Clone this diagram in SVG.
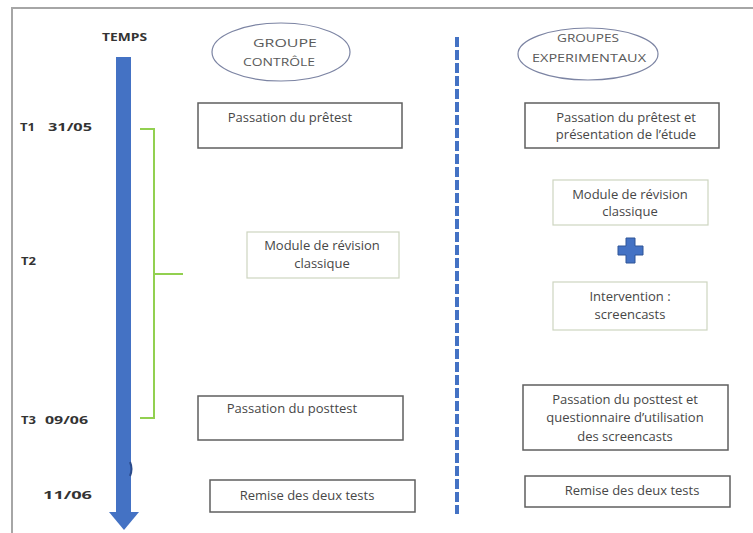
<svg xmlns="http://www.w3.org/2000/svg" width="753" height="533" viewBox="0 0 753 533">
<style>
.frame{fill:none;stroke:#a6a6a6;stroke-width:2}
.box{fill:#fff;stroke:#5f5f5f;stroke-width:1.5}
.lbox{fill:#fff;stroke:#cdd5c0;stroke-width:1.2}
.ell{fill:#fff;stroke:#7c84a3;stroke-width:1.2}
.t{font-family:"Open Sans","Liberation Sans",sans-serif;font-size:13px;fill:#474747;text-anchor:middle}
.et{font-family:"Open Sans","Liberation Sans",sans-serif;font-size:10px;fill:#5a5a5a;text-anchor:middle}
.lab{font-family:"Open Sans","Liberation Sans",sans-serif;font-size:11px;font-weight:bold;fill:#333}
.blue{fill:#4472c4}
</style>
<rect width="753" height="533" fill="#fff"/>
<path class="frame" d="M12,533 V8 H753"/>

<g id="connectors">
  <g id="time-arrow">
    <rect class="blue" x="116" y="57" width="15" height="456"/>
    <polygon class="blue" points="109,512 139,512 124,530"/>
    <path d="M130,462 Q133,469 130,476" fill="none" stroke="#2a4a8a" stroke-width="2"/>
  </g>
  <path id="separator" d="M457,37 V514" fill="none" stroke="#4472c4" stroke-width="4" stroke-dasharray="10,3"/>
  <path id="bracket" d="M140,129 H154 V418 H140 M154,274 H183" fill="none" stroke="#92d050" stroke-width="2"/>
</g>

<g id="temps"><text class="lab" x="102" y="41" textLength="45" lengthAdjust="spacingAndGlyphs">TEMPS</text></g>
<g id="t1"><text class="lab" x="20" y="131" textLength="15" lengthAdjust="spacingAndGlyphs">T1</text><text class="lab" x="48" y="131" textLength="44" lengthAdjust="spacingAndGlyphs">31/05</text></g>
<g id="t2"><text class="lab" x="21" y="265" textLength="15" lengthAdjust="spacingAndGlyphs">T2</text></g>
<g id="t3"><text class="lab" x="21" y="424" textLength="15" lengthAdjust="spacingAndGlyphs">T3</text><text class="lab" x="45" y="424" textLength="43" lengthAdjust="spacingAndGlyphs">09/06</text></g>
<g id="d1106"><text class="lab" x="43" y="499" textLength="49" lengthAdjust="spacingAndGlyphs">11/06</text></g>

<g id="groupe-controle">
  <ellipse class="ell" cx="281" cy="52" rx="69" ry="29"/>
  <text class="et" x="285" y="47" textLength="64" lengthAdjust="spacingAndGlyphs">GROUPE</text>
  <text class="et" x="279" y="66" textLength="72" lengthAdjust="spacingAndGlyphs">CONTRÔLE</text>
</g>
<g id="groupes-exp">
  <ellipse class="ell" cx="588" cy="54" rx="70" ry="26"/>
  <text class="et" x="588" y="42" textLength="62" lengthAdjust="spacingAndGlyphs">GROUPES</text>
  <text class="et" x="589" y="62" textLength="114" lengthAdjust="spacingAndGlyphs">EXPERIMENTAUX</text>
</g>

<g id="c-pretest">
  <rect class="box" x="198" y="103" width="204" height="45"/>
  <text class="t" x="290" y="122">Passation du prêtest</text>
</g>
<g id="c-module">
  <rect class="lbox" x="247" y="232" width="152" height="46"/>
  <text class="t" x="322" y="250">Module de révision</text>
  <text class="t" x="322" y="268">classique</text>
</g>
<g id="c-posttest">
  <rect class="box" x="198" y="396" width="205" height="44"/>
  <text class="t" x="292" y="413">Passation du posttest</text>
</g>
<g id="c-remise">
  <rect class="box" x="210" y="480" width="205" height="32"/>
  <text class="t" x="307" y="500">Remise des deux tests</text>
</g>

<g id="e-pretest">
  <rect class="box" x="525" y="103" width="194" height="45"/>
  <text class="t" x="626" y="122">Passation du prêtest et</text>
  <text class="t" x="626" y="139">présentation de l’étude</text>
</g>
<g id="e-module">
  <rect class="lbox" x="553" y="180" width="155" height="45"/>
  <text class="t" x="630" y="199">Module de révision</text>
  <text class="t" x="630" y="216">classique</text>
</g>
<g id="plus">
  <path d="M626,238 H635 V246 H643 V255 H635 V263 H626 V255 H618 V246 H626 Z" fill="#4472c4" stroke="#2f5597" stroke-width="1"/>
</g>
<g id="e-intervention">
  <rect class="lbox" x="553" y="282" width="154" height="48"/>
  <text class="t" x="630" y="301">Intervention :</text>
  <text class="t" x="630" y="319">screencasts</text>
</g>
<g id="e-posttest">
  <rect class="box" x="523" y="385" width="205" height="65"/>
  <text class="t" x="625" y="404">Passation du posttest et</text>
  <text class="t" x="625" y="422">questionnaire d’utilisation</text>
  <text class="t" x="625" y="441">des screencasts</text>
</g>
<g id="e-remise">
  <rect class="box" x="525" y="476" width="205" height="31"/>
  <text class="t" x="632" y="495">Remise des deux tests</text>
</g>
</svg>
